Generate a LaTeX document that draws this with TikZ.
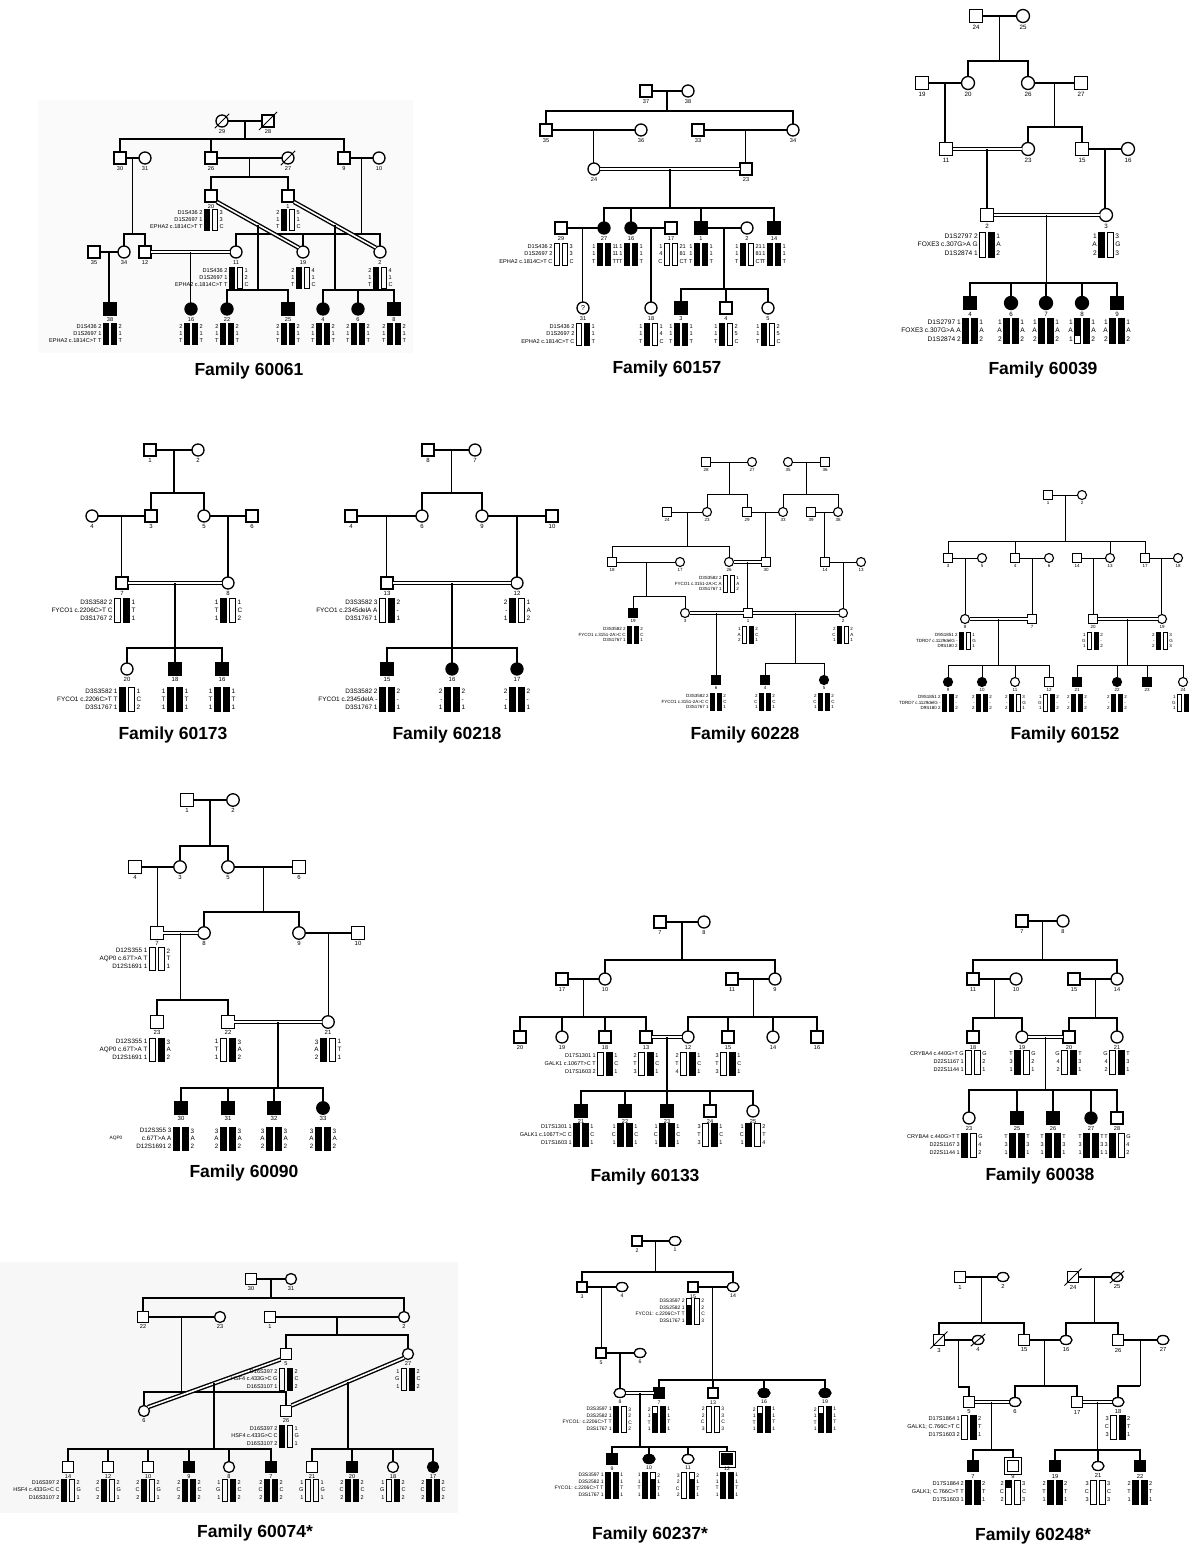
\documentclass[tikz,border=0pt]{standalone}
\usepackage{fontspec}
\setmainfont{Liberation Sans}
\usetikzlibrary{calc,shapes.geometric}
\tikzset{
 sym/.style={draw, line width=\psl pt, inner sep=0pt, outer sep=0pt, fill=white},
 M/.style={sym, rectangle, minimum size=\psz pt},
 F/.style={sym, circle, minimum size=\psz pt},
 Fo/.style={sym, ellipse, minimum width=\pow pt, minimum height=\poh pt},
 A/.style={fill=black},
 nm/.style={font=\nfont, inner sep=0pt},
 al/.style={font=\hfont, inner sep=0pt},
 dbl/.style={double, double distance=1.4pt, line width=0.9pt},
 dbl2/.style={double, double distance=1.6pt, line width=1.4pt},
 ttl/.style={font=\fontsize{17.5}{20}\selectfont\bfseries, inner sep=0pt},
 bg/.style={fill=black!3, draw=none},
}
\def\psl{1.3}\def\pow{12}\def\poh{9}
\newcommand\pers[5]{\node[#1] (#2) at (#3,#4) {}; \node[nm] (#2n) at ($(#2.south)+(0,\plo)$) {#5};}
\newcommand\dead[1]{\draw[line width=0.9pt] ($(#1.south west)+(-3,3)$) -- ($(#1.north east)+(3,-3)$);}
\newcommand\cpl[3]{\draw (#1.east) -- (#2.west); \coordinate (#3) at ($(#1.east)!0.5!(#2.west)$);}
\newcommand\cpld[3]{\draw[dbl] (#1.east) -- (#2.west); \coordinate (#3) at ($(#1.east)!0.5!(#2.west)$);}
\newcommand\sib[3]{\draw (#1) -- (#1 |- 0,#2); \foreach \ch in {#3}{\draw (\ch.north) -- (\ch |- 0,#2) -- (#1 |- 0,#2);}}
\newcommand\onechild[2]{\draw (#1) -- (#1 |- #2.north);}
\newcommand\hapbar[3]{\fill ($(#1)+(-\pbw/2,{#2*\phh})$) rectangle ($(#1)+(\pbw/2,{#3*\phh})$); \draw[line width=0.7pt] ($(#1)+(-\pbw/2,0)$) rectangle ($(#1)+(\pbw/2,\phh)$);}
\newcommand\barB[1]{\hapbar{#1}{0}{1}}
\newcommand\barW[1]{\hapbar{#1}{0}{0}}
\newcommand\barP[1]{\hapbar{#1}{0}{0.7}}
\newcommand\barQ[1]{\hapbar{#1}{0.25}{1}}
\newcommand\barR[1]{\hapbar{#1}{0}{0.33}}
\newcommand\hap[6]{%
 \coordinate (#1hl) at ($(#1 |- 0,#2)+(-\pbg,0)$);
 \coordinate (#1hr) at ($(#1 |- 0,#2)+(\pbg,0)$);
 \csname bar#3\endcsname{#1hl}%
 \csname bar#4\endcsname{#1hr}%
 \node[al, anchor=east, align=right] (#1l) at ($(#1hl)+(-\pbw/2-1.3,\phh/2)$) {#5};
 \node[al, anchor=west, align=left] (#1r) at ($(#1hr)+(\pbw/2+1.3,\phh/2)$) {#6};
}
\begin{document}
\begin{tikzpicture}[x=1pt,y=-1pt]
\fill[white] (0,0) rectangle (1194,1547);
\useasboundingbox (0,0) rectangle (1194,1547);

%%%%%%%%%%%%%%%% Family 60061
\begin{scope}[line width=1.4pt]
\def\psz{12}\def\phh{21}\def\pbw{5}\def\pbg{4}\def\plo{4.5}
\def\hfont{\fontsize{5.6}{7}\selectfont}\def\nfont{\fontsize{5.6}{6}\selectfont}
\fill[bg, fill=black!2] (38,100) rectangle (413,353);
\pers{F}{a29}{222}{121}{29}\dead{a29}
\pers{M}{a28}{268}{121}{28}\dead{a28}
\cpl{a29}{a28}{am1}
\pers{M}{a30}{120}{158}{30}
\pers{F}{a31}{145}{158}{31}
\pers{M}{a26}{211}{158}{26}
\pers{F}{a27}{288}{158}{27}\dead{a27}
\pers{M}{a9}{344}{158}{9}
\pers{F}{a10}{379}{158}{10}
\sib{am1}{139}{a30,a26,a9}
\cpl{a30}{a31}{am2}\cpl{a26}{a27}{am3}\cpl{a9}{a10}{am4}
\pers{M}{a20}{211}{196}{20}
\pers{M}{a1}{288}{196}{1}
\sib{am3}{177}{a20,a1}
\pers{M}{a35}{94}{252}{35}
\pers{F}{a34}{124}{252}{34}
\pers{M}{a12}{145}{252}{12}
\pers{F}{a11}{236}{252}{11}
\pers{F}{a19}{303}{252}{19}
\pers{F}{a2}{380}{252}{2}
\sib{am2}{234}{a34,a12}
\sib{am4}{234}{a11,a19,a2}
\cpl{a35}{a34}{am5}
\draw[dbl2] (a12.east) -- (a11.west); \coordinate (am6) at ($(a12.east)!0.5!(a11.west)$);
\draw[dbl2] (a20.south east) -- (a19.north west); \coordinate (am7) at ($(a20.south east)!0.5!(a19.north west)$);
\draw[dbl2] (a1.south east) -- (a2.north west); \coordinate (am8) at ($(a1.south east)!0.5!(a2.north west)$);
\pers{M,A}{a38}{110}{309}{38}
\pers{F,A}{a16}{191}{309}{16}
\pers{F,A}{a22}{227}{309}{22}
\pers{M,A}{a25}{288}{309}{25}
\pers{F,A}{a4}{323}{309}{4}
\pers{F,A}{a6}{358}{309}{6}
\pers{M,A}{a8}{394}{309}{8}
\onechild{am5}{a38}\onechild{am6}{a16}
\sib{am7}{290}{a22,a25}
\sib{am8}{290}{a4,a6,a8}
\hap{a20}{209}{B}{W}{D1S436 2\\D1S2697 1\\EPHA2 c.1814C>T T}{3\\3\\C}
\hap{a1}{209}{B}{W}{2\\1\\T}{5\\1\\C}
\hap{a11}{267}{B}{W}{D1S436 2\\D1S2697 1\\EPHA2 c.1814C>T T}{1\\2\\C}
\hap{a19}{267}{B}{W}{2\\1\\T}{4\\1\\C}
\hap{a2}{267}{B}{W}{2\\1\\T}{4\\1\\C}
\hap{a38}{323}{B}{B}{D1S436 2\\D1S2697 1\\EPHA2 c.1814C>T T}{2\\1\\T}
\hap{a16}{323}{B}{B}{2\\1\\T}{2\\1\\T}
\hap{a22}{323}{B}{B}{2\\1\\T}{2\\1\\T}
\hap{a25}{323}{B}{B}{2\\1\\T}{2\\1\\T}
\hap{a4}{323}{B}{B}{2\\1\\T}{2\\1\\T}
\hap{a6}{323}{B}{B}{2\\1\\T}{2\\1\\T}
\hap{a8}{323}{B}{B}{2\\1\\T}{2\\1\\T}
\node[ttl] (at) at (249,371) {Family 60061};
\end{scope}

%%%%%%%%%%%%%%%% Family 60157
\begin{scope}[line width=1.4pt]
\def\psz{12}\def\phh{22}\def\pbw{5}\def\pbg{4}\def\plo{4.5}
\def\hfont{\fontsize{5.6}{7.2}\selectfont}\def\nfont{\fontsize{5.6}{6}\selectfont}
\pers{M}{b37}{646}{91}{37}
\pers{F}{b38}{688}{91}{38}
\cpl{b37}{b38}{bm1}
\pers{M}{b35}{546}{130}{35}
\pers{F}{b36}{641}{130}{36}
\pers{M}{b33}{698}{130}{33}
\pers{F}{b34}{793}{130}{34}
\sib{bm1}{111}{b35,b34}
\cpl{b35}{b36}{bm2}\cpl{b33}{b34}{bm3}
\pers{F}{b24}{594}{169}{24}
\pers{M}{b23}{746}{169}{23}
\onechild{bm2}{b24}\onechild{bm3}{b23}
\cpld{b24}{b23}{bm4}
\pers{M}{b29}{561}{228}{29}
\pers{F,A}{b27}{604}{228}{27}
\pers{F,A}{b16}{631}{228}{16}
\pers{M}{b17}{671}{228}{17}
\pers{M,A}{b1}{701}{228}{1}
\pers{F}{b2}{747}{228}{2}
\pers{M,A}{b14}{774}{228}{14}
\sib{bm4}{208}{b27,b16,b1,b14}
\cpl{b29}{b27}{bm5}\cpl{b16}{b17}{bm6}\cpl{b1}{b2}{bm7}
\node[F] (b31) at (583,308) {\fontsize{7}{7}\selectfont ?};
\node[nm] (b31n) at ($(b31.south)+(0,\plo)$) {31};
\pers{F}{b18}{651}{308}{18}
\pers{M,A}{b3}{681}{308}{3}
\pers{M}{b4}{726}{308}{4}
\pers{F}{b5}{768}{308}{5}
\onechild{bm5}{b31}\onechild{bm6}{b18}
\sib{bm7}{289}{b3,b4,b5}
\hap{b29}{243}{W}{W}{D1S436 2\\D1S2697 2\\EPHA2 c.1814C>T C}{3\\3\\C}
\hap{b27}{243}{B}{B}{1\\1\\T}{11\\11\\TT}
\hap{b16}{243}{B}{B}{1\\1\\T}{1\\1\\T}
\hap{b17}{243}{W}{W}{1\\4\\C}{21\\81\\CT}
\hap{b1}{243}{B}{B}{1\\1\\T}{1\\1\\T}
\hap{b2}{243}{B}{W}{1\\1\\T}{21\\81\\CT}
\hap{b14}{243}{B}{B}{1\\1\\T}{1\\1\\T}
\hap{b31}{323}{W}{B}{D1S436 2\\D1S2697 2\\EPHA2 c.1814C>T C}{1\\1\\T}
\hap{b18}{323}{B}{W}{1\\1\\T}{1\\4\\C}
\hap{b3}{323}{B}{B}{1\\1\\T}{1\\1\\T}
\hap{b4}{323}{B}{W}{1\\1\\T}{2\\5\\C}
\hap{b5}{323}{B}{W}{1\\1\\T}{2\\5\\C}
\node[ttl] (bt) at (667,369) {Family 60157};
\end{scope}

%%%%%%%%%%%%%%%% Family 60039
\begin{scope}[line width=1.5pt]
\def\psz{13}\def\phh{25}\def\pbw{5.5}\def\pbg{4.5}\def\plo{4.8}
\def\hfont{\fontsize{6.6}{8.3}\selectfont}\def\nfont{\fontsize{6.2}{6.5}\selectfont}
\pers{M}{c24}{976}{16}{24}
\pers{F}{c25}{1023}{16}{25}
\cpl{c24}{c25}{cm1}
\pers{M}{c19}{922}{83}{19}
\pers{F}{c20}{968}{83}{20}
\pers{F}{c26}{1028}{83}{26}
\pers{M}{c27}{1081}{83}{27}
\sib{cm1}{61}{c20,c26}
\cpl{c19}{c20}{cm2}\cpl{c26}{c27}{cm3}
\pers{M}{c11}{946}{149}{11}
\pers{F}{c23}{1028}{149}{23}
\pers{M}{c15}{1082}{149}{15}
\pers{F}{c16}{1128}{149}{16}
\onechild{cm2}{c11}
\sib{cm3}{127}{c23,c15}
\cpld{c11}{c23}{cm4}\cpl{c15}{c16}{cm5}
\pers{M}{c2}{987}{215}{2}
\pers{F}{c3}{1106}{215}{3}
\onechild{cm4}{c2}\onechild{cm5}{c3}
\cpld{c2}{c3}{cm6}
\pers{M,A}{c4}{970}{303}{4}
\pers{F,A}{c6}{1011}{303}{6}
\pers{F,A}{c7}{1046}{303}{7}
\pers{F,A}{c8}{1082}{303}{8}
\pers{M,A}{c9}{1117}{303}{9}
\sib{cm6}{283}{c4,c6,c7,c8,c9}
\hap{c2}{232}{W}{B}{D1S2797 2\\FOXE3 c.307G>A G\\D1S2874 1}{1\\A\\2}
\hap{c3}{232}{B}{W}{1\\A\\2}{3\\G\\3}
\hap{c4}{318}{B}{B}{D1S2797 1\\FOXE3 c.307G>A A\\D1S2874 2}{1\\A\\2}
\hap{c6}{318}{B}{B}{1\\A\\2}{1\\A\\2}
\hap{c7}{318}{B}{B}{1\\A\\2}{1\\A\\2}
\hap{c8}{318}{P}{B}{1\\A\\1}{1\\A\\2}
\hap{c9}{318}{B}{B}{1\\A\\2}{1\\A\\2}
\node[ttl] (ct) at (1043,370) {Family 60039};
\end{scope}

%%%%%%%%%%%%%%%% Family 60173
\begin{scope}[line width=1.4pt]
\def\psz{12}\def\phh{24}\def\pbw{6}\def\pbg{4.5}\def\plo{4.5}
\def\hfont{\fontsize{6.4}{8}\selectfont}\def\nfont{\fontsize{6}{6}\selectfont}
\pers{M}{d1}{150}{450}{1}
\pers{F}{d2}{198}{450}{2}
\cpl{d1}{d2}{dm1}
\pers{F}{d4}{92}{516}{4}
\pers{M}{d3}{151}{516}{3}
\pers{F}{d5}{204}{516}{5}
\pers{M}{d6}{252}{516}{6}
\sib{dm1}{493}{d3,d5}
\cpl{d4}{d3}{dm2}\cpl{d5}{d6}{dm3}
\pers{M}{d7}{122}{583}{7}
\pers{F}{d8}{228}{583}{8}
\onechild{dm2}{d7}\onechild{dm3}{d8}
\cpld{d7}{d8}{dm4}
\pers{F}{d20}{127}{669}{20}
\pers{M,A}{d18}{175}{669}{18}
\pers{M,A}{d16}{222}{669}{16}
\sib{dm4}{648}{d20,d18,d16}
\hap{d7}{598}{W}{B}{D3S3582 2\\FYCO1 c.2206C>T C\\D3S1767 2}{1\\T\\1}
\hap{d8}{598}{B}{W}{1\\T\\1}{1\\C\\2}
\hap{d20}{687}{B}{W}{D3S3582 1\\FYCO1 c.2206C>T T\\D3S1767 1}{1\\C\\2}
\hap{d18}{687}{B}{B}{1\\T\\1}{1\\T\\1}
\hap{d16}{687}{B}{B}{1\\T\\1}{1\\T\\1}
\node[ttl] (dt) at (173,735) {Family 60173};
\end{scope}

%%%%%%%%%%%%%%%% Family 60218
\begin{scope}[line width=1.4pt]
\def\psz{12}\def\phh{24}\def\pbw{6}\def\pbg{4.5}\def\plo{4.5}
\def\hfont{\fontsize{6.4}{8}\selectfont}\def\nfont{\fontsize{6}{6}\selectfont}
\pers{M}{e8}{428}{450}{8}
\pers{F}{e7}{475}{450}{7}
\cpl{e8}{e7}{em1}
\pers{M}{e4}{351}{516}{4}
\pers{F}{e6}{422}{516}{6}
\pers{F}{e9}{482}{516}{9}
\pers{M}{e10}{552}{516}{10}
\sib{em1}{493}{e6,e9}
\cpl{e4}{e6}{em2}\cpl{e9}{e10}{em3}
\pers{M}{e13}{387}{583}{13}
\pers{F}{e12}{517}{583}{12}
\onechild{em2}{e13}\onechild{em3}{e12}
\cpld{e13}{e12}{em4}
\pers{M,A}{e15}{387}{669}{15}
\pers{F,A}{e16}{452}{669}{16}
\pers{F,A}{e17}{517}{669}{17}
\sib{em4}{648}{e15,e16,e17}
\hap{e13}{598}{W}{B}{D3S3582 3\\FYCO1 c.2345delA A\\D3S1767 1}{2\\-\\1}
\hap{e12}{598}{B}{W}{2\\-\\1}{1\\A\\2}
\hap{e15}{687}{B}{B}{D3S3582 2\\FYCO1 c.2345delA -\\D3S1767 1}{2\\-\\1}
\hap{e16}{687}{B}{B}{2\\-\\1}{2\\-\\1}
\hap{e17}{687}{B}{B}{2\\-\\1}{2\\-\\1}
\node[ttl] (et) at (447,735) {Family 60218};
\end{scope}

%%%%%%%%%%%%%%%% Family 60228
\begin{scope}[line width=1pt]
\def\psl{1.1}\def\psz{9}\def\phh{17}\def\pbw{4}\def\pbg{3.5}\def\plo{3.8}
\def\hfont{\fontsize{4.5}{5.7}\selectfont}\def\nfont{\fontsize{4.5}{5}\selectfont}
\pers{M}{f28}{706}{462}{28}
\pers{F}{f27}{752}{462}{27}
\pers{F}{f35}{788}{462}{35}
\pers{M}{f36}{825}{462}{36}
\cpl{f28}{f27}{fm1}\cpl{f35}{f36}{fm2}
\pers{M}{f24}{667}{512}{24}
\pers{F}{f23}{707}{512}{23}
\pers{M}{f29}{747}{512}{29}
\pers{F}{f33}{783}{512}{33}
\pers{M}{f39}{811}{512}{39}
\pers{F}{f38}{838}{512}{38}
\sib{fm1}{494}{f23,f29}
\sib{fm2}{494}{f33,f38}
\cpl{f24}{f23}{fm3}\cpl{f29}{f33}{fm4}\cpl{f39}{f38}{fm5}
\pers{M}{f18}{612}{562}{18}
\pers{F}{f17}{680}{562}{17}
\pers{F}{f26}{729}{562}{26}
\pers{M}{f30}{766}{562}{30}
\pers{M}{f14}{825}{562}{14}
\pers{F}{f13}{861}{562}{13}
\sib{fm3}{546}{f18,f26}
\onechild{fm4}{f30}\onechild{fm5}{f14}
\cpl{f18}{f17}{fm6}\cpld{f26}{f30}{fm7}\cpl{f14}{f13}{fm8}
\pers{M,A}{f19}{633}{613}{19}
\pers{F}{f3}{685}{613}{3}
\pers{M}{f1}{748}{613}{1}
\pers{F}{f2}{843}{613}{2}
\sib{fm6}{596}{f19,f3}
\onechild{fm7}{f1}\onechild{fm8}{f2}
\cpld{f3}{f1}{fm9}\cpld{f1}{f2}{fm10}
\pers{M,A}{f6}{716}{680}{6}
\pers{M,A}{f4}{765}{680}{4}
\pers{F,A}{f5}{824}{680}{5}
\onechild{fm9}{f6}
\sib{fm10}{663}{f4,f5}
\hap{f26}{575}{W}{W}{D3S3582 2\\FYCO1 c.3151-2A>C A\\D3S1767 1}{1\\A\\2}
\hap{f19}{626}{B}{B}{D3S3582 2\\FYCO1 c.3151-2A>C C\\D3S1767 1}{2\\C\\1}
\hap{f1}{626}{W}{B}{1\\A\\2}{2\\C\\1}
\hap{f2}{626}{B}{W}{2\\C\\1}{2\\A\\1}
\hap{f6}{693}{B}{B}{D3S3582 2\\FYCO1 c.3151-2A>C C\\D3S1767 1}{2\\C\\1}
\hap{f4}{693}{B}{B}{2\\C\\1}{2\\C\\1}
\hap{f5}{693}{B}{B}{2\\C\\1}{2\\C\\1}
\node[ttl] (ft) at (745,735) {Family 60228};
\end{scope}

%%%%%%%%%%%%%%%% Family 60152
\begin{scope}[line width=1pt]
\def\psl{1.1}\def\psz{9}\def\phh{17}\def\pbw{4}\def\pbg{3.5}\def\plo{3.8}
\def\hfont{\fontsize{4.5}{5.7}\selectfont}\def\nfont{\fontsize{4.5}{5}\selectfont}
\pers{M}{g1}{1048}{495}{1}
\pers{F}{g2}{1082}{495}{2}
\cpl{g1}{g2}{gm1}
\pers{M}{g3}{948}{558}{3}
\pers{F}{g5}{982}{558}{5}
\pers{M}{g4}{1015}{558}{4}
\pers{F}{g6}{1049}{558}{6}
\pers{M}{g14}{1077}{558}{14}
\pers{F}{g13}{1110}{558}{13}
\pers{M}{g17}{1145}{558}{17}
\pers{F}{g18}{1178}{558}{18}
\sib{gm1}{541}{g3,g4,g13,g17}
\cpl{g3}{g5}{gm2}\cpl{g4}{g6}{gm3}\cpl{g14}{g13}{gm4}\cpl{g17}{g18}{gm5}
\pers{F}{g8}{965}{619}{8}
\pers{M}{g7}{1032}{619}{7}
\pers{M}{g20}{1093}{619}{20}
\pers{F}{g19}{1162}{619}{19}
\onechild{gm2}{g8}\onechild{gm3}{g7}\onechild{gm4}{g20}\onechild{gm5}{g19}
\cpld{g8}{g7}{gm6}\cpld{g20}{g19}{gm7}
\pers{F,A}{g9}{948}{682}{9}
\pers{F,A}{g10}{982}{682}{10}
\pers{F}{g11}{1015}{682}{11}
\pers{M}{g12}{1049}{682}{12}
\pers{M,A}{g21}{1077}{682}{21}
\pers{F,A}{g22}{1117}{682}{22}
\pers{M,A}{g23}{1147}{682}{23}
\pers{F}{g24}{1183}{682}{24}
\sib{gm6}{665}{g9,g10,g11,g12}
\sib{gm7}{665}{g21,g22,g23,g24}
\hap{g8}{632}{B}{W}{D9S1851 2\\TDRD7 c.1129delG -\\D9S180 2}{1\\G\\1}
\hap{g20}{632}{W}{B}{1\\G\\1}{2\\-\\2}
\hap{g19}{632}{B}{W}{2\\-\\2}{3\\G\\3}
\hap{g9}{694}{B}{B}{D9S1851 2\\TDRD7 c.1129delG -\\D9S180 2}{2\\-\\2}
\hap{g10}{694}{B}{B}{2\\-\\2}{2\\-\\2}
\hap{g11}{694}{B}{W}{2\\-\\2}{3\\G\\1}
\hap{g12}{694}{W}{B}{1\\G\\1}{2\\-\\2}
\hap{g21}{694}{B}{B}{2\\-\\2}{2\\-\\2}
\hap{g22}{694}{B}{B}{2\\-\\2}{2\\-\\2}
\hap{g24}{694}{W}{B}{1\\G\\1}{}
\node[ttl] (gt) at (1065,735) {Family 60152};
\end{scope}

%%%%%%%%%%%%%%%% Family 60090
\begin{scope}[line width=1.5pt]
\def\psz{12.5}\def\phh{23}\def\pbw{6}\def\pbg{4.5}\def\plo{4.5}
\def\hfont{\fontsize{6.3}{7.7}\selectfont}\def\nfont{\fontsize{6}{6}\selectfont}
\pers{M}{h1}{187}{800}{1}
\pers{F}{h2}{233}{800}{2}
\cpl{h1}{h2}{hm1}
\pers{M}{h4}{135}{867}{4}
\pers{F}{h3}{180}{867}{3}
\pers{F}{h5}{228}{867}{5}
\pers{M}{h6}{299}{867}{6}
\sib{hm1}{846}{h3,h5}
\cpl{h4}{h3}{hm2}\cpl{h5}{h6}{hm3}
\pers{M}{h7}{157}{933}{7}
\pers{F}{h8}{204}{933}{8}
\pers{F}{h9}{299}{933}{9}
\pers{M}{h10}{358}{933}{10}
\onechild{hm2}{h7}
\sib{hm3}{912}{h8,h9}
\cpld{h7}{h8}{hm4}\cpl{h9}{h10}{hm5}
\pers{M}{h23}{157}{1022}{23}
\pers{M}{h22}{228}{1022}{22}
\pers{F}{h21}{328}{1022}{21}
\sib{hm4}{1000}{h23,h22}
\onechild{hm5}{h21}
\cpld{h22}{h21}{hm6}
\pers{M,A}{h30}{181}{1108}{30}
\pers{M,A}{h31}{228}{1108}{31}
\pers{M,A}{h32}{274}{1108}{32}
\pers{F,A}{h33}{323}{1108}{33}
\sib{hm6}{1088}{h30,h31,h32,h33}
\hap{h7}{947}{W}{W}{D12S355 1\\AQP0 c.67T>A T\\D12S1691 1}{2\\T\\1}
\hap{h23}{1038}{W}{B}{D12S355 1\\AQP0 c.67T>A T\\D12S1691 1}{3\\A\\2}
\hap{h22}{1038}{W}{B}{1\\T\\1}{3\\A\\2}
\hap{h21}{1038}{B}{W}{3\\A\\2}{1\\T\\1}
\hap{h30}{1127}{B}{B}{D12S355 3\\c.67T>A A\\D12S1691 2}{3\\A\\2}
\node[al, font=\fontsize{4.8}{5}\selectfont] (h30q) at (116,1138) {AQP0};
\hap{h31}{1127}{B}{B}{3\\A\\2}{3\\A\\2}
\hap{h32}{1127}{B}{B}{3\\A\\2}{3\\A\\2}
\hap{h33}{1127}{B}{B}{3\\A\\2}{3\\A\\2}
\node[ttl] (ht) at (244,1173) {Family 60090};
\end{scope}

%%%%%%%%%%%%%%%% Family 60133
\begin{scope}[line width=1.4pt]
\def\psz{12}\def\phh{23}\def\pbw{5.5}\def\pbg{4.5}\def\plo{4.5}
\def\hfont{\fontsize{5.5}{7.7}\selectfont}\def\nfont{\fontsize{5.6}{6}\selectfont}
\pers{M}{i7}{660}{922}{7}
\pers{F}{i8}{704}{922}{8}
\cpl{i7}{i8}{im1}
\pers{M}{i17}{562}{979}{17}
\pers{F}{i10}{605}{979}{10}
\pers{M}{i11}{732}{979}{11}
\pers{F}{i9}{775}{979}{9}
\sib{im1}{960}{i10,i9}
\cpl{i17}{i10}{im2}\cpl{i11}{i9}{im3}
\pers{M}{i20}{520}{1037}{20}
\pers{F}{i19}{562}{1037}{19}
\pers{M}{i18}{605}{1037}{18}
\pers{M}{i13}{646}{1037}{13}
\pers{F}{i12}{688}{1037}{12}
\pers{M}{i15}{728}{1037}{15}
\pers{F}{i14}{773}{1037}{14}
\pers{M}{i16}{817}{1037}{16}
\sib{im2}{1017}{i20,i19,i18,i13}
\sib{im3}{1017}{i12,i15,i14,i16}
\cpld{i13}{i12}{im4}
\pers{M,A}{i21}{581}{1111}{21}
\pers{M,A}{i22}{625}{1111}{22}
\pers{M,A}{i23}{667}{1111}{23}
\pers{M}{i24}{710}{1111}{24}
\pers{F}{i25}{753}{1111}{25}
\sib{im4}{1091}{i21,i22,i23,i24,i25}
\hap{i18}{1052}{W}{B}{D17S1301 1\\GALK1 c.1067T>C T\\D17S1603 2}{1\\C\\1}
\hap{i13}{1052}{W}{B}{2\\T\\3}{1\\C\\1}
\hap{i12}{1052}{W}{B}{2\\T\\4}{1\\C\\1}
\hap{i15}{1052}{W}{B}{3\\T\\3}{1\\C\\1}
\hap{i21}{1123}{B}{B}{D17S1301 1\\GALK1 c.1067T>C C\\D17S1603 1}{1\\C\\1}
\hap{i22}{1123}{B}{B}{1\\C\\1}{1\\C\\1}
\hap{i23}{1123}{B}{B}{1\\C\\1}{1\\C\\1}
\hap{i24}{1123}{W}{B}{3\\T\\3}{1\\C\\1}
\hap{i25}{1123}{B}{W}{1\\C\\1}{2\\T\\4}
\node[ttl] (it) at (645,1177) {Family 60133};
\end{scope}

%%%%%%%%%%%%%%%% Family 60038
\begin{scope}[line width=1.4pt]
\def\psz{12}\def\phh{24}\def\pbw{5.5}\def\pbg{4.5}\def\plo{4.5}
\def\hfont{\fontsize{5.5}{8}\selectfont}\def\nfont{\fontsize{5.6}{6}\selectfont}
\pers{M}{j7}{1022}{921}{7}
\pers{F}{j8}{1063}{921}{8}
\cpl{j7}{j8}{jm1}
\pers{M}{j11}{973}{979}{11}
\pers{F}{j10}{1016}{979}{10}
\pers{M}{j15}{1074}{979}{15}
\pers{F}{j14}{1117}{979}{14}
\sib{jm1}{960}{j11,j14}
\cpl{j11}{j10}{jm2}\cpl{j15}{j14}{jm3}
\pers{M}{j18}{973}{1037}{18}
\pers{F}{j19}{1022}{1037}{19}
\pers{M}{j20}{1069}{1037}{20}
\pers{F}{j21}{1117}{1037}{21}
\sib{jm2}{1018}{j18,j19}
\sib{jm3}{1018}{j20,j21}
\draw[double, double distance=1.2pt, line width=1.5pt] (j19.east) -- (j20.west); \coordinate (jm4) at ($(j19.east)!0.5!(j20.west)$);
\pers{F}{j23}{969}{1118}{23}
\pers{M,A}{j25}{1017}{1118}{25}
\pers{M,A}{j26}{1053}{1118}{26}
\pers{F,A}{j27}{1091}{1118}{27}
\pers{M}{j28}{1117}{1118}{28}
\sib{jm4}{1090}{j23,j25,j26,j27,j28}
\hap{j18}{1050}{W}{W}{CRYBA4 c.440G>T G\\D22S1167 1\\D22S1144 1}{G\\2\\1}
\hap{j19}{1050}{B}{W}{T\\3\\1}{G\\2\\1}
\hap{j20}{1050}{W}{B}{G\\4\\2}{T\\3\\1}
\hap{j21}{1050}{W}{B}{G\\4\\2}{T\\3\\1}
\hap{j23}{1133}{B}{W}{CRYBA4 c.440G>T T\\D22S1167 3\\D22S1144 1}{G\\4\\2}
\hap{j25}{1133}{B}{B}{T\\3\\1}{T\\3\\1}
\hap{j26}{1133}{B}{B}{T\\3\\1}{T\\3\\1}
\hap{j27}{1133}{B}{B}{T\\3\\1}{T\\3\\1}
\hap{j28}{1133}{B}{W}{T\\3\\1}{G\\4\\2}
\node[ttl] (jt) at (1040,1176) {Family 60038};
\end{scope}

%%%%%%%%%%%%%%%% Family 60074*
\begin{scope}[line width=1.4pt]
\def\psz{11}\def\phh{22}\def\pbw{5}\def\pbg{4}\def\plo{4.5}
\def\hfont{\fontsize{5.5}{7.3}\selectfont}\def\nfont{\fontsize{5.6}{6}\selectfont}
\fill[bg] (0,1262) rectangle (458,1513);
\pers{M}{k30}{251}{1279}{30}
\pers{F}{k31}{291}{1279}{31}
\cpl{k30}{k31}{km1}
\pers{M}{k22}{143}{1317}{22}
\pers{F}{k23}{220}{1317}{23}
\pers{M}{k1}{270}{1317}{1}
\pers{F}{k2}{404}{1317}{2}
\sib{km1}{1298}{k22,k2}
\cpl{k22}{k23}{km2}\cpl{k1}{k2}{km3}
\pers{M}{k5}{286}{1354}{5}
\pers{F}{k27}{408}{1354}{27}
\sib{km3}{1335}{k5,k27}
\pers{F}{k6}{144}{1411}{6}
\pers{M}{k26}{286}{1411}{26}
\sib{km2}{1392}{k6,k26}
\draw[dbl2] (k5.south west) -- (k6.north east); \coordinate (km4) at ($(k5.south west)!0.5!(k6.north east)$);
\draw[dbl2] (k27.south west) -- (k26.north east); \coordinate (km5) at ($(k27.south west)!0.5!(k26.north east)$);
\pers{M}{k14}{68}{1467}{14}
\pers{M}{k12}{108}{1467}{12}
\pers{M}{k10}{148}{1467}{10}
\pers{M,A}{k9}{189}{1467}{9}
\pers{F}{k8}{229}{1467}{8}
\pers{M,A}{k7}{271}{1467}{7}
\pers{M}{k21}{312}{1467}{21}
\pers{M,A}{k20}{352}{1467}{20}
\pers{F}{k18}{393}{1467}{18}
\pers{F,A}{k17}{433}{1467}{17}
\sib{km4}{1449}{k14,k12,k10,k9,k8,k7}
\sib{km5}{1449}{k21,k20,k18,k17}
\hap{k5}{1368}{W}{B}{D16S397 2\\HSF4 c.433G>C G\\D16S3107 1}{2\\C\\2}
\hap{k27}{1368}{W}{B}{1\\G\\1}{2\\C\\2}
\hap{k26}{1425}{B}{W}{D16S397 2\\HSF4 c.433G>C C\\D16S3107 2}{1\\G\\1}
\hap{k14}{1479}{B}{W}{D16S397 2\\HSF4 c.433G>C C\\D16S3107 2}{2\\G\\1}
\hap{k12}{1479}{B}{W}{2\\C\\2}{2\\G\\1}
\hap{k10}{1479}{B}{W}{2\\C\\2}{2\\G\\1}
\hap{k9}{1479}{B}{B}{2\\C\\2}{2\\C\\2}
\hap{k8}{1479}{W}{B}{1\\G\\1}{2\\C\\2}
\hap{k7}{1479}{B}{B}{2\\C\\2}{2\\C\\2}
\hap{k21}{1479}{W}{W}{1\\G\\1}{1\\G\\1}
\hap{k20}{1479}{B}{B}{2\\C\\2}{2\\C\\2}
\hap{k18}{1479}{W}{B}{1\\G\\1}{2\\C\\2}
\hap{k17}{1479}{B}{B}{2\\C\\2}{2\\C\\2}
\node[ttl] (kt) at (255,1533) {Family 60074*};
\end{scope}

%%%%%%%%%%%%%%%% Family 60237*
\begin{scope}[line width=1.3pt]
\def\psz{10}\def\pow{12}\def\poh{9}\def\phh{26}\def\pbw{5}\def\pbg{4}\def\plo{4.3}
\def\hfont{\fontsize{5}{6.5}\selectfont}\def\nfont{\fontsize{5.2}{5.5}\selectfont}
\pers{M}{l2}{637}{1241}{2}
\pers{Fo}{l1}{675}{1241}{1}
\cpl{l2}{l1}{lm1}
\pers{M}{l3}{582}{1287}{3}
\pers{Fo}{l4}{622}{1287}{4}
\pers{M}{l15}{693}{1287}{15}
\pers{Fo}{l14}{733}{1287}{14}
\sib{lm1}{1272}{l3,l14}
\cpl{l3}{l4}{lm2}\cpl{l15}{l14}{lm3}
\pers{M}{l5}{601}{1353}{5}
\pers{Fo}{l6}{640}{1353}{6}
\onechild{lm2}{l5}
\cpl{l5}{l6}{lm4}
\pers{Fo}{l8}{620}{1393}{8}
\pers{M,A}{l7}{659}{1393}{7}
\pers{M}{l13}{713}{1393}{13}
\pers{Fo,A}{l16}{764}{1393}{16}
\pers{Fo,A}{l19}{825}{1393}{19}
\onechild{lm4}{l8}
\sib{lm3}{1380}{l7,l13,l16,l19}
\draw[double, double distance=1.4pt, line width=1.1pt] (l8.east) -- (l7.west); \coordinate (lm5) at ($(l8.east)!0.5!(l7.west)$);
\pers{M,A}{l9}{612}{1459}{9}
\pers{Fo,A}{l10}{649}{1459}{10}
\pers{Fo}{l11}{688}{1459}{11}
\node[draw, line width=1pt, minimum size=16pt, inner sep=0pt, fill=white] (l12o) at (727,1459) {};
\pers{M,A}{l12}{727}{1459}{12}
\sib{lm5}{1447}{l9,l10,l11,l12o}
\hap{l15}{1298}{Q}{W}{D3S3597 2\\D3S2582 1\\FYCO1: c.2206C>T T\\D3S1767 1}{2\\2\\C\\3}
\hap{l8}{1406}{B}{W}{D3S3597 1\\D3S2582 1\\FYCO1: c.2206C>T T\\D3S1767 1}{3\\2\\C\\2}
\hap{l7}{1406}{Q}{B}{2\\1\\T\\1}{1\\1\\T\\1}
\hap{l13}{1406}{W}{W}{2\\2\\C\\3}{3\\3\\C\\3}
\hap{l16}{1406}{Q}{B}{2\\1\\T\\1}{1\\1\\T\\1}
\hap{l19}{1406}{Q}{B}{2\\1\\T\\1}{1\\1\\T\\1}
\hap{l9}{1472}{B}{B}{D3S3597 1\\D3S2582 1\\FYCO1: c.2206C>T T\\D3S1767 1}{1\\1\\T\\1}
\hap{l10}{1472}{B}{Q}{1\\1\\T\\1}{2\\1\\T\\1}
\hap{l11}{1472}{W}{Q}{3\\2\\C\\2}{2\\1\\T\\1}
\hap{l12}{1472}{B}{B}{1\\1\\T\\1}{1\\1\\T\\1}
\node[ttl] (lt) at (650,1535) {Family 60237*};
\end{scope}

%%%%%%%%%%%%%%%% Family 60248*
\begin{scope}[line width=1.3pt]
\def\psz{11}\def\pow{12}\def\poh{9}\def\phh{24}\def\pbw{5.5}\def\pbg{4.5}\def\plo{4.5}
\def\hfont{\fontsize{5.6}{8}\selectfont}\def\nfont{\fontsize{5.8}{6}\selectfont}
\pers{M}{m1}{960}{1277}{1}
\pers{Fo}{m2}{1003}{1277}{2}
\pers{M}{m24}{1073}{1277}{24}\dead{m24}
\pers{Fo}{m25}{1117}{1277}{25}\dead{m25}
\cpl{m1}{m2}{mm1}\cpl{m24}{m25}{mm2}
\pers{M}{m3}{939}{1340}{3}\dead{m3}
\pers{Fo}{m4}{978}{1340}{4}\dead{m4}
\pers{M}{m15}{1024}{1340}{15}
\pers{Fo}{m16}{1066}{1340}{16}
\pers{M}{m26}{1118}{1340}{26}
\pers{Fo}{m27}{1163}{1340}{27}
\sib{mm1}{1323}{m3,m15}
\sib{mm2}{1323}{m16,m26}
\cpl{m3}{m4}{mm3}\cpl{m15}{m16}{mm4}\cpl{m26}{m27}{mm5}
\pers{M}{m5}{969}{1402}{5}
\pers{Fo}{m6}{1015}{1402}{6}
\pers{M}{m17}{1077}{1402}{17}
\pers{Fo}{m18}{1118}{1402}{18}
\sib{mm3}{1387}{m5}
\sib{mm4}{1386}{m6,m17}
\sib{mm5}{1386}{m18}
\cpld{m5}{m6}{mm6}\cpld{m17}{m18}{mm7}
\pers{M,A}{m7}{973}{1466}{7}
\node[draw, line width=1pt, minimum size=17pt, inner sep=0pt, fill=white] (m9o) at (1013,1466) {};
\pers{M}{m9}{1013}{1466}{9}
\pers{M,A}{m19}{1055}{1466}{19}
\pers{Fo}{m21}{1098}{1466}{21}
\pers{M,A}{m22}{1140}{1466}{22}
\sib{mm6}{1450}{m7,m9o}
\sib{mm7}{1450}{m19,m21,m22}
\hap{m5}{1415}{W}{B}{D17S1864 1\\GALK1; C.766C>T C\\D17S1603 2}{2\\T\\1}
\hap{m18}{1415}{W}{B}{3\\C\\3}{2\\T\\1}
\hap{m7}{1480}{B}{B}{D17S1864 2\\GALK1; C.766C>T T\\D17S1603 1}{2\\T\\1}
\hap{m9}{1480}{R}{W}{2\\C\\2}{3\\C\\3}
\hap{m19}{1480}{B}{B}{2\\T\\1}{2\\T\\1}
\hap{m21}{1480}{W}{W}{3\\C\\3}{3\\C\\3}
\hap{m22}{1480}{B}{B}{2\\T\\1}{2\\T\\1}
\node[ttl] (mt) at (1033,1536) {Family 60248*};
\end{scope}
\end{tikzpicture}
\end{document}
